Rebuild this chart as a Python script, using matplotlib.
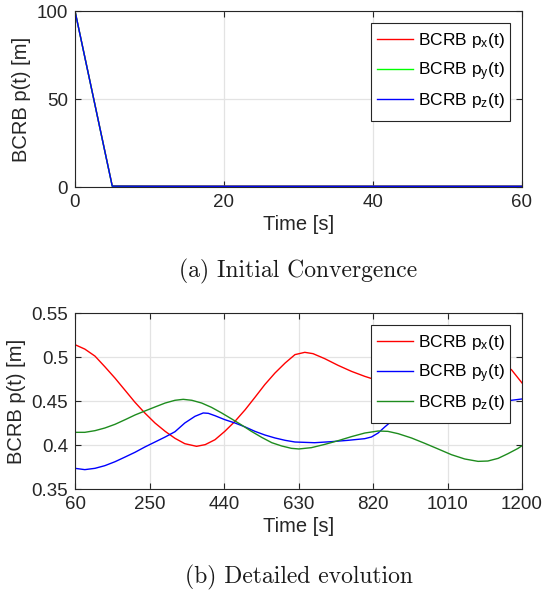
import matplotlib
matplotlib.use("Agg")
import matplotlib.pyplot as plt
from matplotlib.offsetbox import TextArea
from matplotlib.transforms import Bbox
import numpy as np

plt.rcParams['font.family'] = ['Liberation Sans', 'DejaVu Sans']
plt.rcParams['mathtext.fontset'] = 'custom'
plt.rcParams['mathtext.rm'] = 'Liberation Sans'
plt.rcParams['mathtext.it'] = 'Liberation Sans:italic'

# ---- Panel (a): initial convergence ----
t_a = [0, 5, 10, 15, 20, 25, 30, 35, 40, 45, 50, 55, 60]
px_a = [100, 0.62, 0.56, 0.53, 0.52, 0.51, 0.51, 0.51, 0.51, 0.51, 0.51, 0.51, 0.51]
py_a = [100, 0.45, 0.40, 0.38, 0.37, 0.37, 0.37, 0.37, 0.37, 0.37, 0.37, 0.37, 0.37]
pz_a = [100, 0.48, 0.43, 0.42, 0.41, 0.41, 0.41, 0.41, 0.41, 0.41, 0.41, 0.41, 0.41]
xticks_a = [0, 20, 40, 60]
yticks_a = [0, 50, 100]

# ---- Panel (b): detailed evolution ----
t_px = [60, 85, 111, 136, 162, 188, 213, 238, 264, 290, 315, 340, 370, 392, 417, 442,
        468, 494, 519, 544, 570, 596, 621, 646, 667, 697, 731, 765, 799, 820, 860,
        900, 950, 1000, 1050, 1090, 1125, 1150, 1173, 1200]
px_b = [0.514, 0.509, 0.501, 0.489, 0.476, 0.462, 0.4485, 0.4364, 0.425, 0.4155,
        0.4076, 0.4015, 0.3985, 0.4004, 0.406, 0.4155, 0.4269, 0.4401, 0.4542, 0.4686,
        0.4818, 0.4932, 0.5027, 0.5053, 0.5038, 0.4981, 0.4905, 0.4837, 0.478, 0.475,
        0.4725, 0.4725, 0.476, 0.481, 0.487, 0.492, 0.4945, 0.4925, 0.4856, 0.4705]
t_py = [60, 85, 111, 136, 162, 188, 213, 238, 264, 290, 315, 340, 366, 387, 400,
        417, 442, 468, 494, 519, 544, 570, 596, 621, 671, 714, 756, 799, 816, 833,
        850, 867, 890, 920, 960, 1010, 1080, 1140, 1173, 1200]
py_b = [0.3735, 0.372, 0.3735, 0.3765, 0.381, 0.3864, 0.3917, 0.3977, 0.4034, 0.4091,
        0.4151, 0.425, 0.4326, 0.4364, 0.436, 0.4333, 0.4288, 0.425, 0.4205, 0.4155,
        0.4114, 0.408, 0.4053, 0.4034, 0.4026, 0.4038, 0.4053, 0.4072, 0.4091, 0.4136,
        0.4205, 0.4269, 0.4355, 0.4425, 0.4468, 0.449, 0.4498, 0.4502, 0.4508, 0.4523]
t_pz = [60, 85, 111, 136, 162, 188, 213, 238, 264, 290, 315, 336, 358, 383, 408,
        434, 460, 485, 510, 536, 562, 587, 612, 631, 663, 697, 731, 765, 799, 833,
        858, 884, 918, 952, 986, 1020, 1054, 1088, 1113, 1139, 1164, 1190, 1200]
pz_b = [0.4144, 0.4144, 0.4163, 0.4193, 0.4235, 0.4288, 0.4341, 0.4386, 0.4432,
        0.4477, 0.4508, 0.4519, 0.4508, 0.4477, 0.4428, 0.4364, 0.4295, 0.4227, 0.4155,
        0.4087, 0.4026, 0.3989, 0.3962, 0.3955, 0.397, 0.4007, 0.4049, 0.4095, 0.4136,
        0.4159, 0.4155, 0.4129, 0.408, 0.4019, 0.3955, 0.389, 0.3841, 0.3814, 0.3818,
        0.3848, 0.3901, 0.3962, 0.3992]
xticks_b = [60, 250, 440, 630, 820, 1010, 1200]
yticks_b = [0.35, 0.40, 0.45, 0.50, 0.55]
yticklabels_b = ['0.35', '0.4', '0.45', '0.5', '0.55']

W, H = 544, 592
fig = plt.figure(figsize=(W / 100, H / 100), dpi=100)

def axrect(l, t, r, b):
    return [l / W, 1 - b / H, (r - l) / W, (b - t) / H]

ax_a = fig.add_axes(axrect(75, 11, 522, 187))
ax_b = fig.add_axes(axrect(75, 313, 522, 489))

axc = '#262626'
tick_fs = 13.5
label_fs = 14.5
leg_fs = 12.5

def style(ax):
    ax.grid(True, color='#e3e3e3', linewidth=0.9)
    ax.set_axisbelow(True)
    for s in ax.spines.values():
        s.set_color(axc)
        s.set_linewidth(0.8)
    ax.tick_params(direction='in', length=4, width=0.8, colors=axc,
                   top=True, right=True, labelsize=tick_fs, pad=5)
    ax.set_xlabel('Time [s]', fontsize=label_fs, color=axc, labelpad=3)
    ax.set_ylabel('BCRB p(t) [m]', fontsize=label_fs, color=axc, labelpad=4)

lw = 1.0
ax_a.plot(t_a, px_a, color='#ff0000', lw=lw, label=r'BCRB p$_\mathrm{x}$(t)')
ax_a.plot(t_a, py_a, color='#00ff00', lw=lw, label=r'BCRB p$_\mathrm{y}$(t)')
ax_a.plot(t_a, pz_a, color='#0000ff', lw=lw, label=r'BCRB p$_\mathrm{z}$(t)')
ax_a.set_xlim(0, 60)
ax_a.set_ylim(0, 100)
ax_a.set_xticks(xticks_a)
ax_a.set_yticks(yticks_a)
style(ax_a)

ax_b.plot(t_px, px_b, color='#ff0000', lw=lw, label=r'BCRB p$_\mathrm{x}$(t)')
ax_b.plot(t_py, py_b, color='#0000ff', lw=lw, label=r'BCRB p$_\mathrm{y}$(t)')
ax_b.plot(t_pz, pz_b, color='#1e8c1e', lw=lw, label=r'BCRB p$_\mathrm{z}$(t)')
ax_b.set_xlim(60, 1200)
ax_b.set_ylim(0.35, 0.55)
ax_b.set_xticks(xticks_b)
ax_b.set_yticks(yticks_b)
ax_b.set_yticklabels(yticklabels_b)
style(ax_b)


def even_rows(leg, asc=0.97, desc=0.62):
    """Give every legend text row the same height so the rows are evenly spaced."""
    try:
        tas = []
        def walk(box):
            for c in box.get_children():
                if isinstance(c, TextArea):
                    tas.append(c)
                elif hasattr(c, 'get_children'):
                    walk(c)
        walk(leg._legend_handle_box)
        for ta in tas:
            orig = ta.get_bbox
            def gb(renderer, orig=orig):
                b = orig(renderer)
                fs = renderer.points_to_pixels(leg_fs)
                return Bbox.from_bounds(b.x0, -desc * fs, b.width, (asc + desc) * fs)
            ta.get_bbox = gb
    except Exception:
        pass


for ax in (ax_a, ax_b):
    leg = ax.legend(loc='upper right', bbox_to_anchor=(0.973, 0.932), fontsize=leg_fs,
                    frameon=True, fancybox=False, edgecolor=axc, framealpha=1,
                    handlelength=2.1, handletextpad=0.25, labelspacing=0.12,
                    borderpad=0.32, borderaxespad=0)
    leg.get_frame().set_linewidth(0.8)
    even_rows(leg)

fig.text((75 + 522) / 2 / W, 1 - 271 / H, '(a) Initial Convergence',
         ha='center', va='center', fontsize=17, family='cmr10', color='#1a1a1a')
fig.text((75 + 522) / 2 / W, 1 - 577 / H, '(b) Detailed evolution',
         ha='center', va='center', fontsize=17, family='cmr10', color='#1a1a1a')

fig.savefig('out.png', dpi=100)
